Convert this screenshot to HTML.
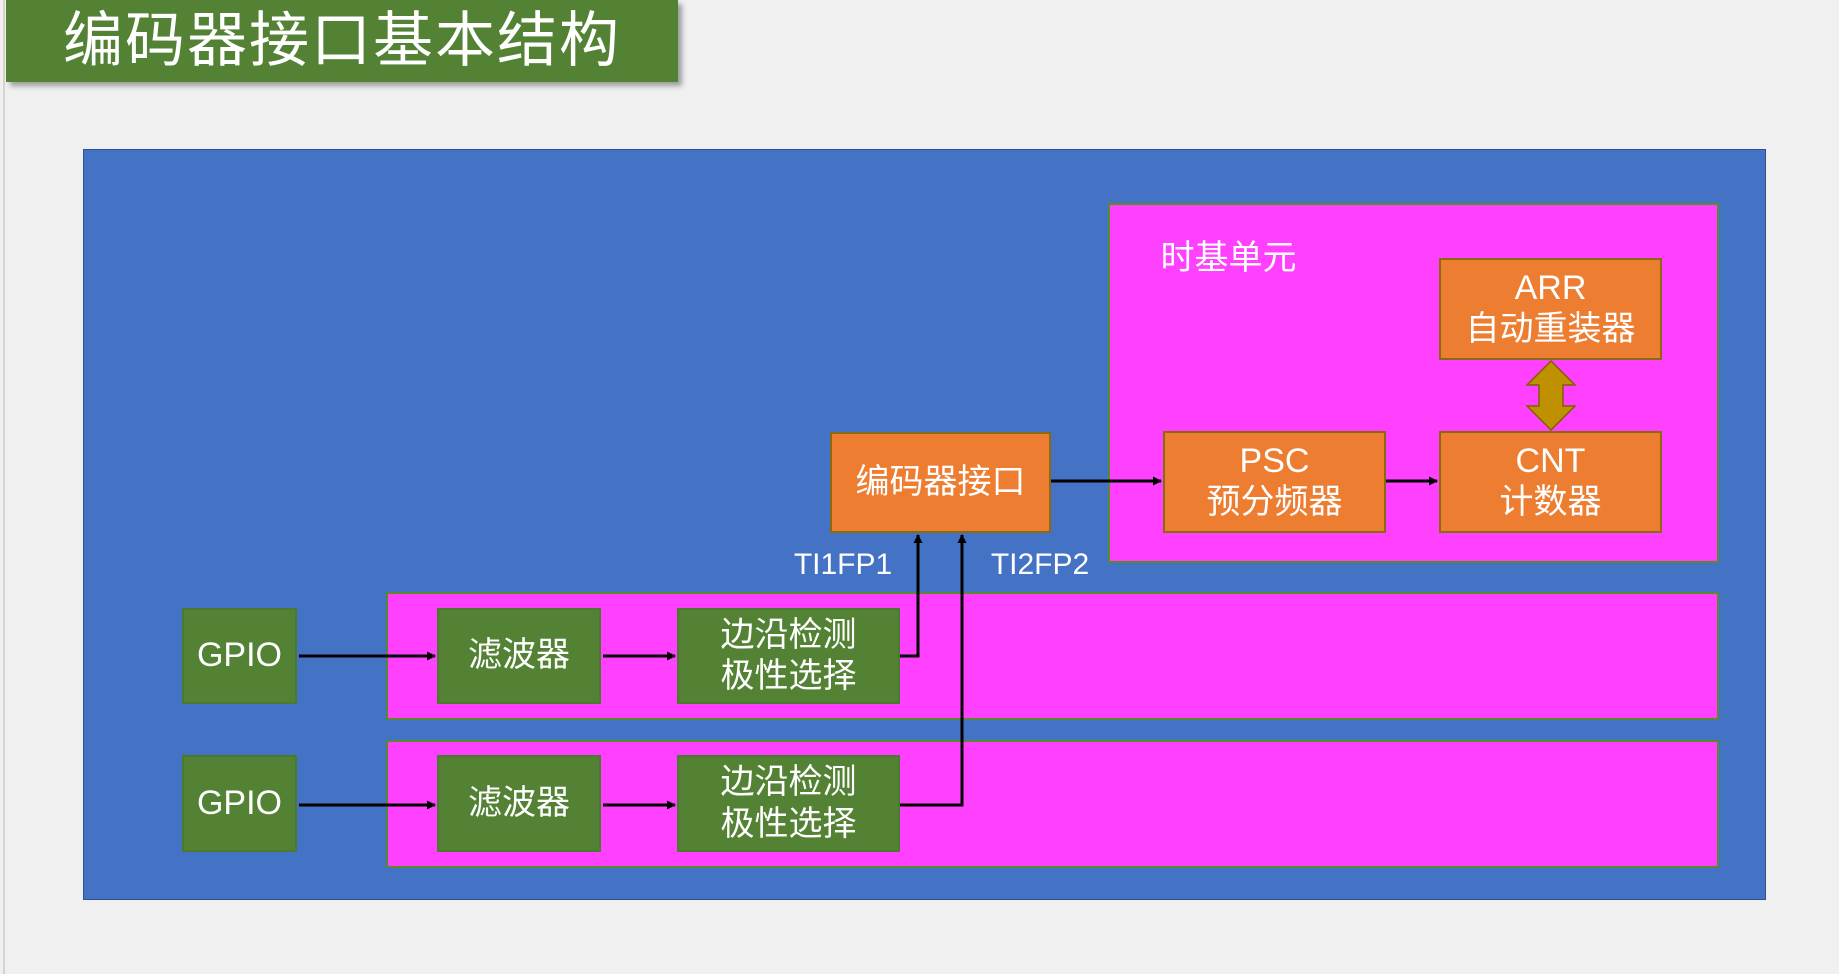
<!DOCTYPE html>
<html><head><meta charset="utf-8"><style>
body{margin:0;width:1839px;height:974px;background:#f0f0f0;position:relative;overflow:hidden;font-family:"Liberation Sans","Noto Sans CJK SC",sans-serif;}
.a{position:absolute;box-sizing:border-box;}
.t{position:absolute;box-sizing:border-box;display:flex;align-items:center;justify-content:center;text-align:center;color:#fff;font-size:34px;line-height:1.22;}
.g{background:#548235;border:2px solid #4a7a30;}
.o{background:#ed7d31;border:2px solid #8a6a10;}
.p{background:#ff40ff;border:2px solid #5a8a30;}
</style></head><body>
<div class="a" style="left:3px;top:0;width:2px;height:974px;background:#d8d4cc"></div>
<div class="t" style="left:6px;top:0;width:672px;height:82px;background:#548235;font-size:60px;box-shadow:4px 4px 5px rgba(0,0,0,0.35);letter-spacing:2px;">编码器接口基本结构</div>
<div class="a" style="left:83px;top:149px;width:1683px;height:751px;background:#4472c4;border:1px solid #2f528f"></div>
<div class="a p" style="left:1108px;top:203px;width:611px;height:360px"></div>
<div class="a p" style="left:386px;top:592px;width:1333px;height:128px"></div>
<div class="a p" style="left:386px;top:740px;width:1333px;height:128px"></div>
<div class="t" style="left:1156px;top:238px;width:145px;height:42px;font-size:34px">时基单元</div>
<div class="t o" style="left:1439px;top:258px;width:223px;height:102px">ARR<br>自动重装器</div>
<div class="t o" style="left:1439px;top:431px;width:223px;height:102px">CNT<br>计数器</div>
<div class="t o" style="left:1163px;top:431px;width:223px;height:102px">PSC<br>预分频器</div>
<div class="t o" style="left:830px;top:432px;width:221px;height:101px">编码器接口</div>
<div class="t g" style="left:182px;top:608px;width:115px;height:96px">GPIO</div>
<div class="t g" style="left:182px;top:755px;width:115px;height:97px">GPIO</div>
<div class="t g" style="left:437px;top:608px;width:164px;height:96px">滤波器</div>
<div class="t g" style="left:437px;top:755px;width:164px;height:97px">滤波器</div>
<div class="t g" style="left:677px;top:608px;width:223px;height:96px">边沿检测<br>极性选择</div>
<div class="t g" style="left:677px;top:755px;width:223px;height:97px">边沿检测<br>极性选择</div>
<div class="t" style="left:783px;top:545px;width:120px;height:40px;font-size:30px">TI1FP1</div>
<div class="t" style="left:980px;top:545px;width:120px;height:40px;font-size:30px">TI2FP2</div>
<svg class="a" style="left:0;top:0" width="1839" height="974">
<defs><marker id="m" markerWidth="9" markerHeight="9" refX="8" refY="4.5" orient="auto" markerUnits="userSpaceOnUse"><path d="M0,0L9,4.5L0,9z" fill="#000"/></marker></defs>
<g stroke="#000" stroke-width="3" fill="none">
<line x1="299" y1="656" x2="435" y2="656" marker-end="url(#m)"/>
<line x1="603" y1="656" x2="675" y2="656" marker-end="url(#m)"/>
<line x1="299" y1="805" x2="435" y2="805" marker-end="url(#m)"/>
<line x1="603" y1="805" x2="675" y2="805" marker-end="url(#m)"/>
<polyline points="900,656 918,656 918,535" marker-end="url(#m)"/>
<polyline points="900,805 962,805 962,535" marker-end="url(#m)"/>
<line x1="1051" y1="481" x2="1161" y2="481" marker-end="url(#m)"/>
<line x1="1386" y1="481" x2="1437" y2="481" marker-end="url(#m)"/>
</g>
<polygon points="1551,361 1575,385 1563,385 1563,406 1575,406 1551,430 1527,406 1539,406 1539,385 1527,385" fill="#bf9000" stroke="#7f6000" stroke-width="1.5"/>
</svg>
</body></html>
